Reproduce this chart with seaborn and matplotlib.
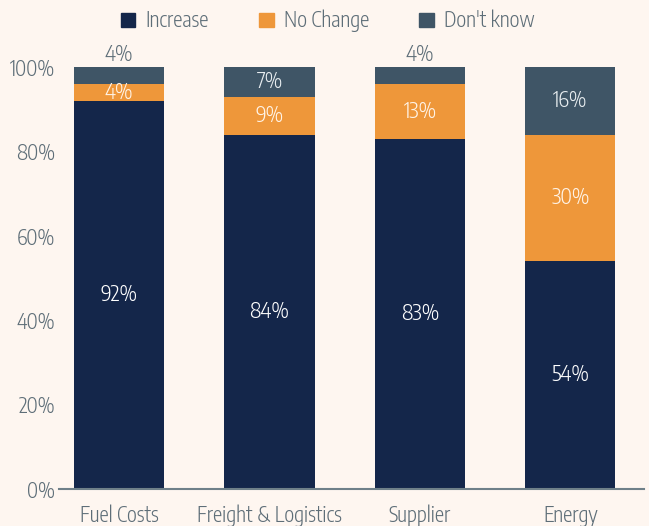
import numpy as np
import pandas as pd
import matplotlib
matplotlib.use("Agg")
import matplotlib.pyplot as plt
from matplotlib.patches import Patch
from matplotlib import font_manager
import seaborn as sns

# chart data
categories = ["Fuel Costs", "Freight & Logistics", "Supplier", "Energy"]
increase = [92, 84, 83, 54]
no_change = [4, 9, 13, 30]
dont_know = [4, 7, 4, 16]
series_names = ["Increase", "No Change", "Don't know"]
y_ticks = [0, 20, 40, 60, 80, 100]

navy = "#14264A"
orange = "#EE973A"
slate = "#3F5566"
bg = "#FEF6F0"
text_col = "#5E6E78"

sns.set_theme(style="white")
names = {f.name for f in font_manager.fontManager.ttflist}
fam = "DejaVu Sans"
for cand in ["Encode Sans Condensed", "Barlow Semi Condensed", "Roboto Condensed"]:
    if cand in names:
        fam = cand
        break
plt.rcParams["font.family"] = [fam, "DejaVu Sans"]
plt.rcParams["font.weight"] = 300

df = pd.DataFrame({
    "category": categories,
    "increase": increase,
    "no_change": no_change,
    "dont_know": dont_know,
})
df["lvl1"] = df["increase"]
df["lvl2"] = df["increase"] + df["no_change"]
df["lvl3"] = df["lvl2"] + df["dont_know"]

fig = plt.figure(figsize=(6.49, 5.26), dpi=100, facecolor=bg)
ax = fig.add_axes([59 / 649, 1 - 489 / 526, 585 / 649, 422 / 526])
ax.set_facecolor(bg)

# stacked bars drawn back to front
sns.barplot(data=df, x="category", y="lvl3", color=slate, width=0.6, ax=ax, saturation=1, linewidth=0)
sns.barplot(data=df, x="category", y="lvl2", color=orange, width=0.6, ax=ax, saturation=1, linewidth=0)
sns.barplot(data=df, x="category", y="lvl1", color=navy, width=0.6, ax=ax, saturation=1, linewidth=0)

ax.set_xlim(-0.4, 3.49)
ax.set_ylim(0, 100)
ax.set_yticks(y_ticks)
ax.set_yticklabels([f"{t}%" for t in y_ticks])
ax.set_xlabel("")
ax.set_ylabel("")
ax.tick_params(axis="both", colors=text_col, labelsize=15, length=0)
ax.tick_params(axis="y", pad=3)
ax.tick_params(axis="x", pad=11)
for s in ["top", "right", "left"]:
    ax.spines[s].set_visible(False)
ax.spines["bottom"].set_color("#6F8089")
ax.spines["bottom"].set_linewidth(1.5)

# value labels
for i in range(len(categories)):
    ax.text(i, increase[i] / 2, f"{increase[i]}%", ha="center", va="center",
            color="white", fontsize=15.5)
    nc_mid = increase[i] + no_change[i] / 2
    ax.text(i, nc_mid, f"{no_change[i]}%", ha="center", va="center",
            color="#FFF4E8", fontsize=15.5)
    if dont_know[i] >= 5:
        dk_mid = increase[i] + no_change[i] + dont_know[i] / 2
        ax.text(i, dk_mid, f"{dont_know[i]}%", ha="center", va="center",
                color="#E8EDF0", fontsize=15.5)
    else:
        ax.text(i, 100 + 0.3, f"{dont_know[i]}%", ha="center", va="bottom",
                color=text_col, fontsize=15.5, clip_on=False)

handles = [Patch(color=c, label=n) for c, n in zip([navy, orange, slate], series_names)]
fig.legend(handles=handles, loc="center", bbox_to_anchor=(0.505, 1 - 21 / 526), ncol=3,
           frameon=False, fontsize=15, handlelength=0.7, handleheight=0.7,
           columnspacing=2.4, handletextpad=0.5, labelcolor=text_col)

fig.savefig("out.png", dpi=100, facecolor=bg)
